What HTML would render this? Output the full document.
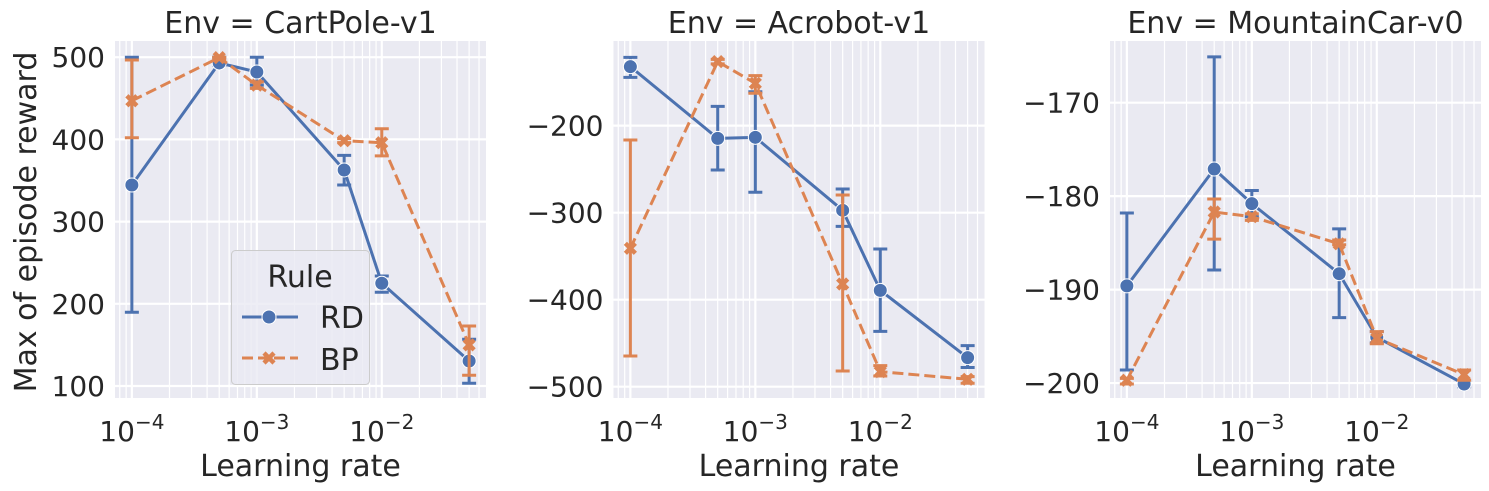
<!DOCTYPE html>
<html><head><meta charset="utf-8">
<style>
html,body{margin:0;padding:0;background:#fff;}
svg{display:block;font-family:"DejaVu Sans","Liberation Sans",sans-serif;}
</style></head>
<body>
<svg id="chart" width="1489" height="491" viewBox="0 0 1489 491" xmlns="http://www.w3.org/2000/svg"></svg>
<script>
// ---- data ----
const learningRates = [1e-4, 5e-4, 1e-3, 5e-3, 1e-2, 5e-2];
const envTitles = ["Env = CartPole-v1", "Env = Acrobot-v1", "Env = MountainCar-v0"];
const cartRD = [344.5, 493, 482, 362.8, 225, 130.4];
const cartRDlo = [189.7, 490, 466, 344.5, 214, 103.3];
const cartRDhi = [500, 500, 500, 380.6, 233.8, 156.8];
const cartBP = [447, 499.5, 466, 398.4, 396, 150];
const cartBPlo = [402, 497, 462, 396, 380, 113];
const cartBPhi = [496.6, 500, 470, 401, 413, 173];
const acroRD = [-132.2, -214.6, -213.4, -297.3, -389.3, -466.6];
const acroRDlo = [-144.5, -251, -276.6, -315.7, -436.4, -478];
const acroRDhi = [-121.5, -177.8, -161, -272.8, -341.7, -452.8];
const acroBP = [-341, -126.4, -151.3, -382, -482.7, -491.5];
const acroBPlo = [-464.7, -129, -162.8, -482, -487.7, -496];
const acroBPhi = [-216.5, -123.8, -142.5, -279.7, -475.8, -488.5];
const mcRD = [-189.6, -177.1, -180.8, -188.3, -195.1, -200.1];
const mcRDlo = [-198.6, -187.9, -182.2, -193, -195.7, -200.4];
const mcRDhi = [-181.8, -165.1, -179.4, -183.5, -194.5, -199.9];
const mcBP = [-199.7, -181.7, -182.2, -185.1, -195.2, -199.1];
const mcBPlo = [-200.1, -184.6, -182.6, -185.2, -195.8, -199.7];
const mcBPhi = [-199.5, -180.3, -181.9, -184.7, -194.5, -198.6];
const cartTicks = [100, 200, 300, 400, 500];
const acroTicks = [-500, -400, -300, -200];
const mcTicks = [-200, -190, -180, -170];
const xTickExps = [-4, -3, -2];

const NS = "http://www.w3.org/2000/svg";
const svg = document.getElementById("chart");
const BLUE = "#4C72B0", ORANGE = "#DD8452";
const TICK = 28, LAB = 30;
function mk(tag, attrs, parent) {
  const e = document.createElementNS(NS, tag);
  for (const k in attrs) e.setAttribute(k, attrs[k]);
  (parent || svg).appendChild(e);
  return e;
}

const panels = [
  {left:115, top:41, w:371, h:357, ymin:85.4, ymax:519.7, ticks:cartTicks, title:envTitles[0],
   rd:[cartRD,cartRDlo,cartRDhi], bp:[cartBP,cartBPlo,cartBPhi], name:"cartpole"},
  {left:613.5, top:41, w:371, h:357, ymin:-513, ymax:-102.7, ticks:acroTicks, title:envTitles[1],
   rd:[acroRD,acroRDlo,acroRDhi], bp:[acroBP,acroBPlo,acroBPhi], name:"acrobot"},
  {left:1110, top:41, w:371, h:357, ymin:-201.6, ymax:-163.4, ticks:mcTicks, title:envTitles[2],
   rd:[mcRD,mcRDlo,mcRDhi], bp:[mcBP,mcBPlo,mcBPhi], name:"mountaincar"}
];
const XMIN = -4.135, XMAX = -1.166;

panels.forEach((p, pi) => {
  const g = mk("g", {});
  
  
  const xs = v => p.left + (Math.log10(v) - XMIN) / (XMAX - XMIN) * p.w;
  const ys = v => p.top + (p.ymax - v) / (p.ymax - p.ymin) * p.h;
  const bg = mk("rect", {x:p.left, y:p.top, width:p.w, height:p.h, fill:"#EAEAF2"}, g);
  
  
  for (let e = -5; e <= -1; e++) for (let m = 2; m <= 9; m++) {
    const v = m * Math.pow(10, e);
    const lv = Math.log10(v);
    if (lv <= XMIN || lv >= XMAX) continue;
    const l = mk("line", {x1:xs(v), x2:xs(v), y1:p.top, y2:p.top+p.h, stroke:"#fff", "stroke-width":1.2}, g);
    
    
  }
  xTickExps.forEach(e => {
    const x = xs(Math.pow(10, e));
    const l = mk("line", {x1:x, x2:x, y1:p.top, y2:p.top+p.h, stroke:"#fff", "stroke-width":2.2}, g);
    
    
    const t = mk("text", {x:x, y:441, "text-anchor":"middle", "font-size":TICK, fill:"#262626"}, g);
    
    
    const b = document.createElementNS(NS, "tspan"); b.textContent = "10"; t.appendChild(b);
    const s = document.createElementNS(NS, "tspan");
    s.setAttribute("dy", "-12"); s.setAttribute("font-size", "20"); s.textContent = "\u2212" + Math.abs(e);
    t.appendChild(s);
  });
  p.ticks.forEach(v => {
    const y = ys(v);
    const l = mk("line", {x1:p.left, x2:p.left+p.w, y1:y, y2:y, stroke:"#fff", "stroke-width":2.2}, g);
    
    
    const t = mk("text", {x:p.left - 10, y:y + 10, "text-anchor":"end", "font-size":TICK, fill:"#262626"}, g);
    
    
    t.textContent = v < 0 ? "\u2212" + Math.abs(v) : String(v);
  });
  const tt = mk("text", {x:p.left + p.w/2, y:33, "text-anchor":"middle", "font-size":LAB, fill:"#262626"}, g);
  
  
  tt.textContent = p.title;
  const xl = mk("text", {x:p.left + p.w/2, y:476, "text-anchor":"middle", "font-size":LAB, fill:"#262626"}, g);
  
  
  xl.textContent = "Learning rate";

  function series(arrs, color, dash, marker, sname) {
    const [vals, lo, hi] = arrs;
    const pts = learningRates.map((lr, i) => xs(lr) + "," + ys(vals[i])).join(" ");
    const pl = mk("polyline", {points:pts, fill:"none", stroke:color, "stroke-width":3,
      "stroke-dasharray":dash, "stroke-linejoin":"round"}, g);
    
    
    learningRates.forEach((lr, i) => {
      const x = xs(lr);
      const eb = mk("path", {d:`M${x},${ys(lo[i])}V${ys(hi[i])}M${x-7},${ys(lo[i])}H${x+7}M${x-7},${ys(hi[i])}H${x+7}`,
        stroke:color, "stroke-width":3, fill:"none"}, g);
      
      
      const y = ys(vals[i]);
      let m;
      if (marker === "o") {
        m = mk("circle", {cx:x, cy:y, r:7, fill:color, stroke:"#fff", "stroke-width":1}, g);
      } else {
        m = mk("path", {d:`M${x-5},${y-5}L${x+5},${y+5}M${x+5},${y-5}L${x-5},${y+5}`,
          stroke:color, "stroke-width":4.5, fill:"none"}, g);
      }
      
      
    });
  }
  series(p.rd, BLUE, "none", "o", "rd");
  series(p.bp, ORANGE, "11,5", "x", "bp");
});

const yl = mk("text", {x:0, y:0, transform:"translate(36,222) rotate(-90)", "text-anchor":"middle", "font-size":LAB, fill:"#262626"});


yl.textContent = "Max of episode reward";

const lg = mk("g", {});


const lb = mk("rect", {x:231.5, y:250.5, width:138, height:134, rx:4, fill:"#EAEAF2", "fill-opacity":0.8, stroke:"#cccccc", "stroke-width":1}, lg);


const lt = mk("text", {x:300, y:287, "text-anchor":"middle", "font-size":LAB, fill:"#262626"}, lg);


lt.textContent = "Rule";
const l1 = mk("line", {x1:242, x2:298, y1:317, y2:317, stroke:BLUE, "stroke-width":3}, lg);


const c1 = mk("circle", {cx:269, cy:317, r:7, fill:BLUE, stroke:"#fff", "stroke-width":1}, lg);


const t1 = mk("text", {x:320, y:328, "font-size":LAB, fill:"#262626"}, lg);


t1.textContent = "RD";
const l2 = mk("line", {x1:242, x2:298, y1:358, y2:358, stroke:ORANGE, "stroke-width":3, "stroke-dasharray":"11,5"}, lg);


const c2 = mk("path", {d:"M264,353L274,363M274,353L264,363", stroke:ORANGE, "stroke-width":4.5}, lg);


const t2 = mk("text", {x:320, y:370, "font-size":LAB, fill:"#262626"}, lg);


t2.textContent = "BP";
</script>
</body></html>
